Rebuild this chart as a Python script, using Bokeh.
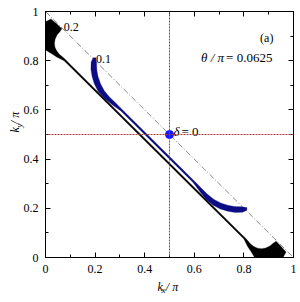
from bokeh.plotting import figure
from bokeh.models import (LinearAxis, FixedTicker, Span, Title, Range1d)
from bokeh.core.properties import value
from bokeh.embed import file_html
from bokeh.resources import INLINE

# ---------------- data ----------------
tick_values = [0, 0.2, 0.4, 0.6, 0.8, 1.0]
tick_labels = ["0", "0.2", "0.4", "0.6", "0.8", "1"]
minor_values = [0.1, 0.3, 0.5, 0.7, 0.9]

# dash-dot reference line kx + ky = 1
ref_kx = [0.0, 1.0]
ref_ky = [1.0, 0.0]

# black region (delta = 0.2 contour, broadened near the corners)
black_kx = [0.000, 0.022, 0.045, 0.066, 0.058, 0.047, 0.039, 0.036, 0.038, 0.045, 0.056, 0.075, 0.100,
            0.785, 0.810, 0.826, 0.840, 0.855, 0.872, 0.888, 0.905, 0.918, 0.930, 0.950, 0.970, 0.958,
            0.843, 0.830, 0.815, 0.800,
            0.075, 0.045, 0.022, 0.000]
black_ky = [0.958, 0.970, 0.950, 0.930, 0.918, 0.905, 0.888, 0.872, 0.855, 0.840, 0.826, 0.810, 0.785,
            0.100, 0.075, 0.056, 0.045, 0.038, 0.036, 0.039, 0.047, 0.058, 0.066, 0.045, 0.022, 0.000,
            0.000, 0.022, 0.045, 0.075,
            0.800, 0.815, 0.830, 0.843]

# blue region (delta = 0.1 contour)
blue_kx = [0.192, 0.184, 0.183, 0.188, 0.197, 0.212, 0.236, 0.268, 0.305,
           0.595, 0.622, 0.648, 0.676, 0.705, 0.735, 0.765, 0.795, 0.812,
           0.812, 0.790, 0.762, 0.735, 0.706, 0.678, 0.652, 0.627, 0.598,
           0.313, 0.284, 0.258, 0.237, 0.222, 0.212, 0.207, 0.206, 0.203]
blue_ky = [0.812, 0.795, 0.765, 0.735, 0.705, 0.676, 0.648, 0.622, 0.595,
           0.305, 0.268, 0.236, 0.212, 0.197, 0.188, 0.183, 0.184, 0.192,
           0.203, 0.206, 0.207, 0.212, 0.222, 0.237, 0.258, 0.284, 0.313,
           0.598, 0.627, 0.652, 0.678, 0.706, 0.735, 0.762, 0.790, 0.812]

# delta = 0 point
point_kx = [0.5]
point_ky = [0.5]
cross_kx = 0.5
cross_ky = 0.5

# contour labels
curve_label_text = ["0.2", "0.1"]
curve_label_kx = [0.074, 0.204]
curve_label_ky = [0.936, 0.808]

# ---------------- figure ----------------
FONT = "Times New Roman"
p = figure(frame_width=248, frame_height=246,
           min_border_left=45, min_border_right=7, min_border_top=11, min_border_bottom=45,
           x_range=Range1d(0, 1), y_range=Range1d(0, 1),
           output_backend="svg", toolbar_location=None, tools="")
p.grid.visible = False
p.outline_line_color = "black"
p.outline_line_width = 1
p.background_fill_color = "white"
p.border_fill_color = "white"

overrides = {v: s for v, s in zip(tick_values, tick_labels)}
ticker = FixedTicker(ticks=tick_values, minor_ticks=minor_values)

def style_axis(ax, show_labels):
    ax.ticker = ticker
    ax.axis_line_color = "black"
    ax.major_tick_in = 5
    ax.major_tick_out = 0
    ax.minor_tick_in = 3
    ax.minor_tick_out = 0
    ax.major_tick_line_color = "black"
    ax.minor_tick_line_color = "black"
    if show_labels:
        ax.major_label_overrides = overrides
        ax.major_label_text_font = FONT
        ax.major_label_text_font_size = "12px"
        ax.major_label_text_color = "black"
        ax.major_label_standoff = 7
    else:
        ax.major_label_text_font_size = "0px"
        ax.major_label_text_alpha = 0
        ax.major_label_standoff = 0

style_axis(p.xaxis[0], True)
style_axis(p.yaxis[0], True)
top = LinearAxis()
right = LinearAxis()
style_axis(top, False)
style_axis(right, False)
p.add_layout(top, "above")
p.add_layout(right, "right")

# axis titles k_x / pi and k_y / pi built from titles in the side panels
def side_title(side, text, size, offset, standoff, valign):
    p.add_layout(Title(text=text, text_font=FONT, text_font_size=size,
                       text_font_style="italic", text_color="black",
                       align="left", vertical_align=valign,
                       offset=offset, standoff=standoff), side)

side_title("below", "k    / \u03c0", "12px", 112, 4, "bottom")
side_title("below", "x", "9px", 116, -22, "top")
side_title("left", "k    / \u03c0", "12px", 125, -2, "bottom")
side_title("left", "y", "9px", 130, -34, "bottom")

# red dotted cross lines
for dim, loc in (("height", cross_kx), ("width", cross_ky)):
    p.add_layout(Span(location=loc, dimension=dim, line_color="#a03a3a",
                      line_dash="2 1", line_width=1))

# dash-dot line
p.line(ref_kx, ref_ky, line_color="#8a8a8a", line_width=1, line_dash="6 2 1 2")

# regions
p.patch(black_kx, black_ky, fill_color="black", line_color="black", line_width=0.3)
p.patch(blue_kx, blue_ky, fill_color="#0c0c85", line_color="#0c0c85", line_width=0.3)

# point
p.scatter(point_kx, point_ky, size=8, fill_color="#1515ff", line_color="#1515ff")

# curve labels
p.text(curve_label_kx, curve_label_ky, text=curve_label_text,
       text_font=value(FONT), text_font_size=value("12px"),
       text_baseline="alphabetic", text_align="left", text_color="black")

# annotations in the frame
p.text([0.919], [0.894], text=["(a)"], text_font=value(FONT), text_font_size=value("12px"),
       text_align="right", text_baseline="alphabetic")
p.text([0.72], [0.813], text=["\u03b8 / \u03c0"], text_font=value(FONT),
       text_font_size=value("13px"), text_font_style="italic",
       text_align="right", text_baseline="alphabetic")
p.text([0.915], [0.813], text=["= 0.0625"], text_font=value(FONT),
       text_font_size=value("13px"), text_align="right", text_baseline="alphabetic")
p.text([0.516], [0.512], text=["\u03b4"], text_font=value(FONT),
       text_font_size=value("13px"), text_font_style="italic",
       text_align="left", text_baseline="alphabetic")
p.text([0.548], [0.512], text=["= 0"], text_font=value(FONT),
       text_font_size=value("13px"), text_align="left", text_baseline="alphabetic")

open("out.html", "w").write(file_html(p, INLINE))
